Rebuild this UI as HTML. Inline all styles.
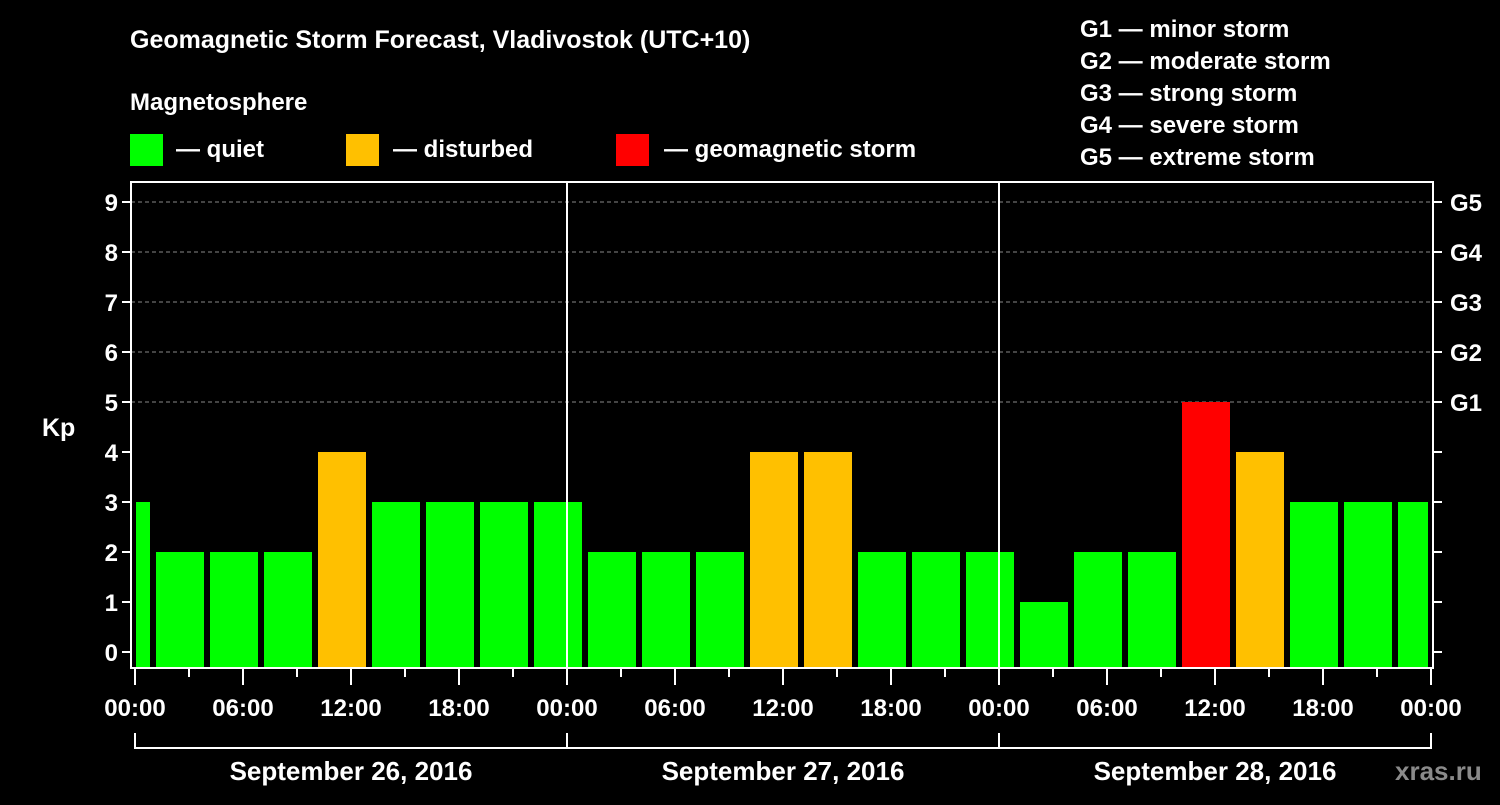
<!DOCTYPE html>
<html><head><meta charset="utf-8"><style>
body{margin:0;background:#000;}
svg text{font-family:"Liberation Sans",Arial,sans-serif;font-weight:bold;fill:#fff;}
</style></head><body>
<svg id="chart" width="1500" height="800" xmlns="http://www.w3.org/2000/svg">
<rect width="1500" height="800" fill="#000"/>
<text x="130" y="48" font-size="25">Geomagnetic Storm Forecast, Vladivostok (UTC+10)</text>
<text x="130" y="110" font-size="24">Magnetosphere</text>
<g>
<rect x="130" y="134" width="33" height="32" fill="#00ff00"/>
<text x="176" y="157" font-size="24">— quiet</text>
<rect x="346" y="134" width="33" height="32" fill="#ffc000"/>
<text x="393" y="157" font-size="24">— disturbed</text>
<rect x="616" y="134" width="33" height="32" fill="#ff0000"/>
<text x="664" y="157" font-size="24">— geomagnetic storm</text>
</g>
<g font-size="24">
<text x="1080" y="37">G1 — minor storm</text>
<text x="1080" y="69">G2 — moderate storm</text>
<text x="1080" y="101">G3 — strong storm</text>
<text x="1080" y="133">G4 — severe storm</text>
<text x="1080" y="165">G5 — extreme storm</text>
</g>
<g id="plot"></g>
<text x="42" y="436" font-size="25">Kp</text>
<text x="1395" y="780" font-size="26" fill="#888" style="fill:#8a8a8a">xras.ru</text>
</svg>
<script>
const values=[3,2,2,2,4,3,3,3,3,2,2,2,4,4,2,2,2,1,2,2,5,4,3,3,3];
const yTicks=[0,1,2,3,4,5,6,7,8,9];
const gLabels=["G1","G2","G3","G4","G5"];
const xTickLabels=["00:00","06:00","12:00","18:00","00:00","06:00","12:00","18:00","00:00","06:00","12:00","18:00","00:00"];
const dayLabels=["September 26, 2016","September 27, 2016","September 28, 2016"];
const NS="http://www.w3.org/2000/svg";
const L=131,R=1433,T=182,B=668;
const x=h=>135+18*h;
const y=v=>652-50*v;
const g=document.getElementById('plot');
function mk(tag,attrs){const e=document.createElementNS(NS,tag);for(const k in attrs)e.setAttribute(k,attrs[k]);g.appendChild(e);return e;}
// grid
yTicks.forEach(v=>{if(v>=5){const l=mk('line',{x1:L,x2:R,y1:y(v),y2:y(v),stroke:'#888','stroke-dasharray':'4,3','stroke-width':1});

}});
// bars
values.forEach((v,k)=>{
 const c=x(3*k-0.5);let x0=c-24,x1=c+24;x0=Math.max(x0,136);x1=Math.min(x1,1428);
 const col=v>=5?'#ff0000':(v>=4?'#ffc000':'#00ff00');
 const r=mk('rect',{x:x0,y:y(v),width:x1-x0,height:B-y(v),fill:col});
 
 
});
// day separators
[1,2].forEach(d=>{const l=mk('line',{x1:x(24*d),x2:x(24*d),y1:T,y2:B,stroke:'#fff','stroke-width':2});

});
// frame
const f=mk('rect',{x:L,y:T,width:R-L,height:B-T,fill:'none',stroke:'#fff','stroke-width':2});


// y ticks
yTicks.forEach(v=>{
 mk('line',{x1:122,x2:L,y1:y(v),y2:y(v),stroke:'#fff','stroke-width':2});
 mk('line',{x1:R,x2:1442,y1:y(v),y2:y(v),stroke:'#fff','stroke-width':2});
 const t=mk('text',{x:118,y:y(v)+9,'font-size':24,'text-anchor':'end'});t.textContent=v;
 
 
 if(v>=5){const gt=mk('text',{x:1450,y:y(v)+9,'font-size':24});gt.textContent=gLabels[v-5];
 
 }
});
// x ticks
for(let h=0;h<=72;h+=3){const major=h%6===0;mk('line',{x1:x(h),x2:x(h),y1:B,y2:major?685:677,stroke:'#fff','stroke-width':2});}
xTickLabels.forEach((s,i)=>{const t=mk('text',{x:x(6*i),y:716,'font-size':24,'text-anchor':'middle'});t.textContent=s;
 
 });
// bracket
mk('line',{x1:x(0),x2:x(72),y1:748,y2:748,stroke:'#fff','stroke-width':2});
[0,24,48,72].forEach(h=>mk('line',{x1:x(h),x2:x(h),y1:733,y2:749,stroke:'#fff','stroke-width':2}));
dayLabels.forEach((s,i)=>{const t=mk('text',{x:x(24*i+12),y:780,'font-size':26,'text-anchor':'middle'});t.textContent=s;
 
 });
</script>
</body></html>
